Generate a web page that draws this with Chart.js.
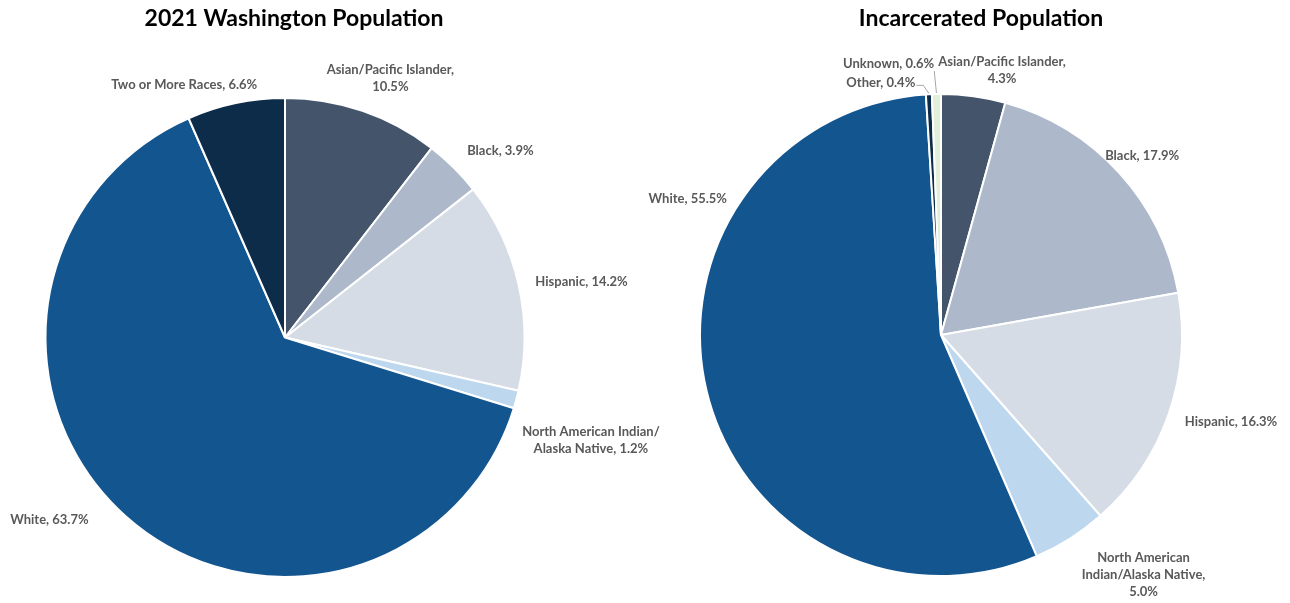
<!DOCTYPE html>
<html>
<head>
<meta charset="utf-8">
<script src="https://cdn.jsdelivr.net/npm/chart.js@4/dist/chart.umd.min.js"></script>
<style>
  html, body { margin: 0; padding: 0; background: #ffffff; }
  #wrap { position: relative; width: 1290px; height: 603px; overflow: hidden; }
  canvas { position: absolute; top: 0; }
  #c1 { left: 0; z-index: 2; }
  #c2 { left: 645px; z-index: 1; }
</style>
</head>
<body>
<div id="wrap">
  <canvas id="c1" width="720" height="603"></canvas>
  <canvas id="c2" width="645" height="603"></canvas>
</div>
<script>
// ---------- DATA ----------
const leftTitle = '2021 Washington Population';
const leftCategories = ['Asian/Pacific Islander', 'Black', 'Hispanic', 'North American Indian/Alaska Native', 'White', 'Two or More Races'];
const leftValues = [10.5, 3.9, 14.2, 1.2, 63.7, 6.6];

const rightTitle = 'Incarcerated Population';
const rightCategories = ['Asian/Pacific Islander', 'Black', 'Hispanic', 'North American Indian/Alaska Native', 'White', 'Other', 'Unknown'];
const rightValues = [4.3, 17.9, 16.3, 5.0, 55.5, 0.4, 0.6];

// ---------- STYLE ----------
const categoryColors = {
  'Asian/Pacific Islander': '#44546A',
  'Black': '#ADB9CA',
  'Hispanic': '#D6DCE5',
  'North American Indian/Alaska Native': '#BDD7EE',
  'White': '#13558F',
  'Two or More Races': '#0D2C4A',
  'Other': '#0D2C4A',
  'Unknown': '#E2F0D9'
};

const LABEL_FONT = 'bold 13px Lato';
const LABEL_COLOR = '#595959';
const TITLE_FONT = 'bold 23px Lato';

// label layout (offsets relative to slice mid-angle anchor)
const leftLabelLayout = [
  { dx: 24, dy: -21, align: 'center', maxWidth: 140 },
  { dx: 5, dy: -8, align: 'left', maxWidth: 220 },
  { dx: 5, dy: 0, align: 'left', maxWidth: 220 },
  { dx: 63, dy: 38, align: 'center', maxWidth: 150 },
  { dx: -29, dy: -5, align: 'right', maxWidth: 220 },
  { dx: 24, dy: -7, align: 'right', maxWidth: 220 }
];
const rightLabelLayout = [
  { dx: 27, dy: -14, align: 'center', maxWidth: 140 },
  { dx: -23, dy: -9, align: 'left', maxWidth: 220 },
  { dx: 5, dy: 3, align: 'left', maxWidth: 220 },
  { dx: 67, dy: 26, align: 'center', maxWidth: 130 },
  { dx: 32, dy: -195, align: 'right', maxWidth: 220 },
  { dx: -13, dy: 0, align: 'right', maxWidth: 220, leader: 'elbow' },
  { dx: -2, dy: -18, align: 'right', maxWidth: 220, leader: 'vertical' }
];

// ---------- HELPERS ----------
function wrapText(ctx, text, maxWidth) {
  const tokens = text.match(/[^ \/]+[ \/]?/g) || [text];
  const lines = [];
  let cur = '';
  tokens.forEach(t => {
    const test = cur + t;
    if (cur && ctx.measureText(test.trimEnd()).width > maxWidth) {
      lines.push(cur.trimEnd());
      cur = t;
    } else {
      cur = test;
    }
  });
  if (cur) lines.push(cur.trimEnd());
  return lines;
}

const sliceLabelPlugin = {
  id: 'sliceLabels',
  afterDatasetsDraw(chart, args, opts) {
    const ctx = chart.ctx;
    const meta = chart.getDatasetMeta(0);
    const labels = chart.data.labels;
    const vals = chart.data.datasets[0].data;
    ctx.save();
    ctx.font = LABEL_FONT;
    ctx.fillStyle = LABEL_COLOR;
    ctx.textBaseline = 'middle';
    const lh = 17;
    meta.data.forEach((arc, i) => {
      const lay = opts.layout[i];
      const p = arc.getProps(['x', 'y', 'startAngle', 'endAngle', 'outerRadius'], true);
      const mid = (p.startAngle + p.endAngle) / 2;
      const ax = p.x + Math.cos(mid) * (p.outerRadius + 12) + lay.dx;
      const ay = p.y + Math.sin(mid) * (p.outerRadius + 12) + lay.dy;
      const text = labels[i] + ', ' + vals[i].toFixed(1) + '%';
      const lines = wrapText(ctx, text, lay.maxWidth);
      ctx.textAlign = lay.align;
      const y0 = ay - (lines.length - 1) * lh / 2;
      lines.forEach((l, k) => ctx.fillText(l, ax, y0 + k * lh));
      if (lay.leader) {
        const ex = p.x + Math.cos(mid) * p.outerRadius;
        const ey = p.y + Math.sin(mid) * p.outerRadius;
        ctx.strokeStyle = '#A6A6A6';
        ctx.lineWidth = 1;
        ctx.beginPath();
        if (lay.leader === 'elbow') {
          ctx.moveTo(ax + 1, ay + 3);
          ctx.lineTo(ax + 8, ay + 3);
          ctx.lineTo(ex, ey - 1);
        } else {
          ctx.moveTo(ax, ay + 7);
          ctx.lineTo(ex, ey - 1);
        }
        ctx.stroke();
      }
    });
    ctx.font = TITLE_FONT;
    ctx.fillStyle = '#000000';
    ctx.textAlign = 'center';
    ctx.textBaseline = 'middle';
    ctx.fillText(opts.title, opts.titleX, 19);
    ctx.restore();
  }
};

function makePie(canvasId, title, titleX, categories, values, layout, padding) {
  return new Chart(document.getElementById(canvasId), {
    type: 'pie',
    data: {
      labels: categories,
      datasets: [{
        data: values,
        backgroundColor: categories.map(c => categoryColors[c]),
        borderColor: '#FFFFFF',
        borderWidth: 2,
        hoverOffset: 0
      }]
    },
    options: {
      responsive: false,
      animation: false,
      devicePixelRatio: 1,
      layout: { padding: padding },
      plugins: {
        legend: { display: false },
        tooltip: { enabled: false },
        title: { display: false },
        sliceLabels: { layout: layout, title: title, titleX: titleX }
      }
    },
    plugins: [sliceLabelPlugin]
  });
}

makePie('c1', leftTitle, 294, leftCategories, leftValues, leftLabelLayout,
  { left: 44, right: 194, top: 97, bottom: 25 });
makePie('c2', rightTitle, 336, rightCategories, rightValues, rightLabelLayout,
  { left: 54, right: 107, top: 93, bottom: 26 });
</script>
</body>
</html>
